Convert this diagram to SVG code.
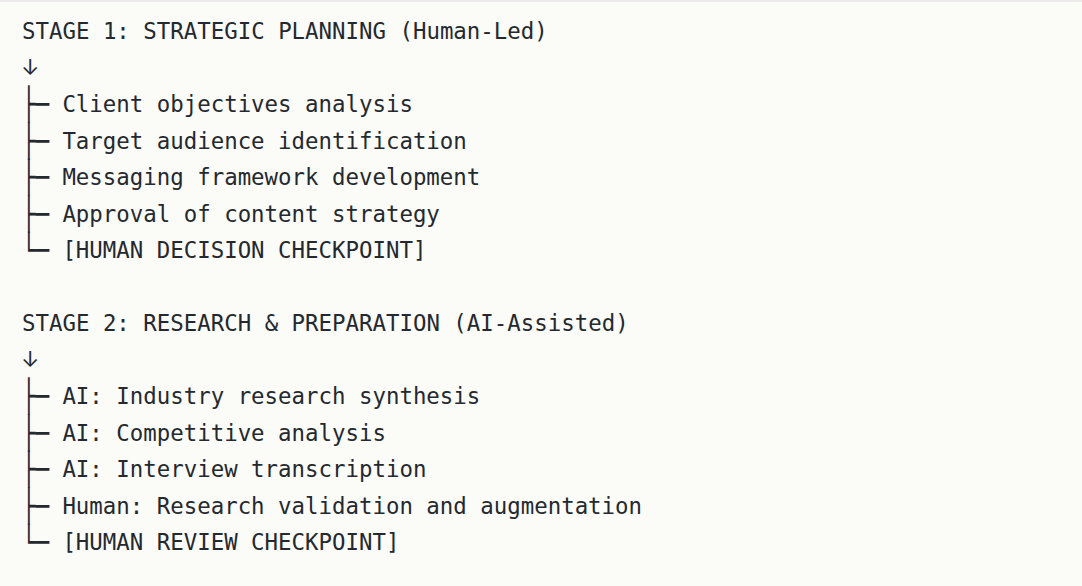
<svg xmlns="http://www.w3.org/2000/svg" width="1082" height="586" viewBox="0 0 1082 586">
<style>
.t{font-family:"DejaVu Sans Mono","Liberation Mono",monospace;font-size:22.4px;fill:#24292f;white-space:pre}
.a{font-family:Inter,"DejaVu Sans Mono",monospace;font-size:22px;fill:#24292f}
</style>
<defs>
<g id="tee"><text class="t" x="0" y="7.7" transform="scale(1,1.42)">├─</text></g>
<g id="end"><text class="t" x="0" y="7.7" transform="scale(1,1.42)">└─</text></g>
</defs>
<rect width="1082" height="586" fill="#fbfbf8"/>
<rect width="1082" height="2" fill="#ecebea"/>
<g id="stage1">
<text class="t" x="22" y="39">STAGE 1: STRATEGIC PLANNING (Human-Led)</text>
<text class="a" x="21" y="75">↓</text>
<use href="#tee" x="22" y="104.3"/><text class="t" x="62.4" y="112">Client objectives analysis</text>
<use href="#tee" x="22" y="140.8"/><text class="t" x="62.4" y="148.5">Target audience identification</text>
<use href="#tee" x="22" y="177.3"/><text class="t" x="62.4" y="185">Messaging framework development</text>
<use href="#tee" x="22" y="213.8"/><text class="t" x="62.4" y="221.5">Approval of content strategy</text>
<use href="#end" x="22" y="250.3"/><text class="t" x="62.4" y="258">[HUMAN DECISION CHECKPOINT]</text>
</g>
<g id="stage2">
<text class="t" x="22" y="331">STAGE 2: RESEARCH &amp; PREPARATION (AI-Assisted)</text>
<text class="a" x="21" y="367">↓</text>
<use href="#tee" x="22" y="396.3"/><text class="t" x="62.4" y="404">AI: Industry research synthesis</text>
<use href="#tee" x="22" y="432.8"/><text class="t" x="62.4" y="440.5">AI: Competitive analysis</text>
<use href="#tee" x="22" y="469.3"/><text class="t" x="62.4" y="477">AI: Interview transcription</text>
<use href="#tee" x="22" y="505.8"/><text class="t" x="62.4" y="513.5">Human: Research validation and augmentation</text>
<use href="#end" x="22" y="542.3"/><text class="t" x="62.4" y="550">[HUMAN REVIEW CHECKPOINT]</text>
</g>
<g id="connectors"></g>
</svg>
